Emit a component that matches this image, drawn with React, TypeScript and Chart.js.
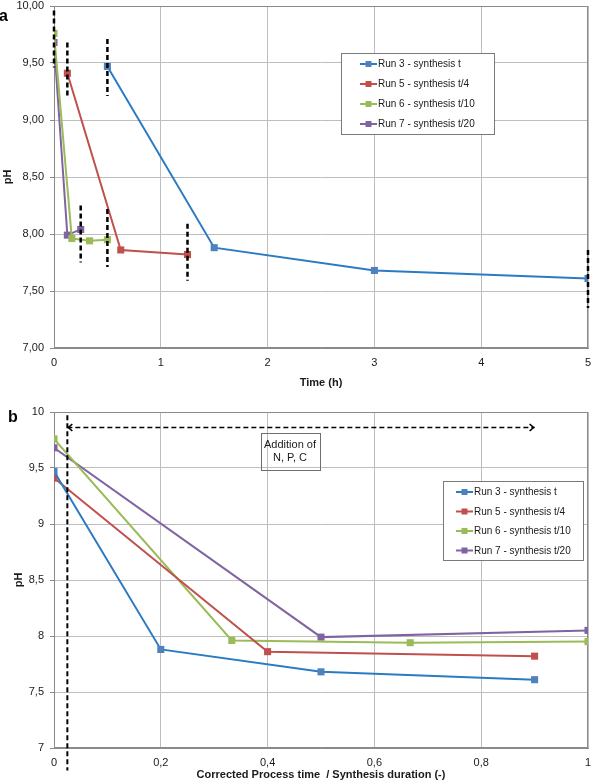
import { useEffect, useRef } from 'react';
import { Chart, registerables } from 'chart.js';

Chart.register(...registerables);

const FONT = "'Liberation Sans', Arial, Helvetica, sans-serif";

// Series names and colours
const RUN_LABELS = [
  'Run 3 - synthesis t',
  'Run 5 - synthesis t/4',
  'Run 6 - synthesis t/10',
  'Run 7 - synthesis t/20',
];
const RUN_LINE_COLORS = ['#2b7bc4', '#c0504d', '#9bbb59', '#8064a2'];
const RUN_MARKER_COLORS = ['#4f81bd', '#c0504d', '#9bbb59', '#8064a2'];

// Panel a: pH against time (h)
const run3TimeH = [0.5, 1.5, 3, 5];
const run3PhA = [9.47, 7.88, 7.68, 7.61];
const run5TimeH = [0.125, 0.625, 1.25];
const run5PhA = [9.41, 7.86, 7.82];
const run6TimeH = [0, 0.167, 0.333, 0.5];
const run6PhA = [9.76, 7.96, 7.94, 7.95];
const run7TimeH = [0, 0.125, 0.25];
const run7PhA = [9.68, 7.99, 8.04];

// Panel a: dashed markers for the start and end of each synthesis
const guideTimeH = [0, 0.125, 0.5, 0.25, 0.5, 1.25, 5];
const guideTopPh = [9.96, 9.68, 9.71, 8.25, 8.22, 8.09, 7.86];
const guideBottomPh = [9.46, 9.19, 9.21, 7.75, 7.71, 7.59, 7.35];

// Panel b: pH against corrected process time / synthesis duration
const run3Ratio = [0, 0.2, 0.5, 0.9];
const run3PhB = [9.47, 7.88, 7.68, 7.61];
const run5Ratio = [0, 0.4, 0.9];
const run5PhB = [9.41, 7.86, 7.82];
const run6Ratio = [0, 0.333, 0.667, 1];
const run6PhB = [9.76, 7.96, 7.94, 7.95];
const run7Ratio = [0, 0.5, 1];
const run7PhB = [9.68, 7.99, 8.05];

// Panel b: nutrient addition marker
const ADDITION_RATIO = 0.025;
const ADDITION_LINE_PH = [9.97, 6.8];
const ADDITION_ARROW_END = 0.9;
const ADDITION_ARROW_PH = 9.87;
const ADDITION_TEXT = ['Addition of', 'N, P, C'];
const ADDITION_TEXT_AT = [0.442, 9.645];

// Axis ranges and ticks
const PH_MIN = 7;
const PH_MAX = 10;
const PH_STEP = 0.5;
const TIME_MAX = 5;
const TIME_STEP = 1;
const RATIO_MAX = 1;
const RATIO_STEP = 0.2;

const GRID_COLOR = '#bdbdbd';
const FRAME_COLOR = '#8a8a8a';

function points(xs: number[], ys: number[]) {
  return xs.map((x, i) => ({ x, y: ys[i] }));
}

function runDataset(i: number, xs: number[], ys: number[]) {
  return {
    label: RUN_LABELS[i],
    data: points(xs, ys),
    borderColor: RUN_LINE_COLORS[i],
    backgroundColor: RUN_MARKER_COLORS[i],
    pointBackgroundColor: RUN_MARKER_COLORS[i],
    pointBorderColor: RUN_MARKER_COLORS[i],
    borderWidth: 2,
    pointStyle: 'rect',
    pointRadius: 5,
    pointBorderWidth: 0,
    tension: 0,
    order: 1,
    isRun: true,
  };
}

function dashedDataset(x: number, yTop: number, yBottom: number, width: number) {
  return {
    label: '',
    data: [
      { x, y: yTop },
      { x, y: yBottom },
    ],
    borderColor: '#000000',
    borderWidth: width,
    borderDash: [5, 3],
    pointRadius: 0,
    clip: false,
    order: 0,
    isRun: false,
  };
}

// Plot frame, boxed legend, addition arrow and its text box
const overlayPlugin = {
  id: 'overlay',
  beforeDatasetsDraw(chart: any) {
    const { ctx, chartArea } = chart;
    const l = Math.round(chartArea.left) + 0.5;
    const t = Math.round(chartArea.top) + 0.5;
    const r = Math.round(chartArea.right) - 0.5;
    const b = Math.round(chartArea.bottom) - 0.5;
    ctx.save();
    ctx.strokeStyle = FRAME_COLOR;
    ctx.lineWidth = 1;
    ctx.strokeRect(l - 0.5 + 0.5, t, r - l, b - t);
    ctx.restore();
  },
  afterDraw(chart: any, _args: any, opts: any) {
    const { ctx } = chart;
    const xs = chart.scales.x;
    const ys = chart.scales.y;
    ctx.save();

    if (opts.arrow) {
      const { from, to, y } = opts.arrow;
      const x1 = xs.getPixelForValue(from);
      const x2 = xs.getPixelForValue(to);
      const py = Math.round(ys.getPixelForValue(y)) + 0.5;
      ctx.strokeStyle = '#000000';
      ctx.lineWidth = 1.5;
      ctx.setLineDash([5, 3]);
      ctx.beginPath();
      ctx.moveTo(x1, py);
      ctx.lineTo(x2, py);
      ctx.stroke();
      ctx.setLineDash([]);
      ctx.lineWidth = 1.6;
      ctx.beginPath();
      ctx.moveTo(x1 + 5, py - 3.5);
      ctx.lineTo(x1 + 1, py);
      ctx.lineTo(x1 + 5, py + 3.5);
      ctx.moveTo(x2 - 5, py - 3.5);
      ctx.lineTo(x2 - 1, py);
      ctx.lineTo(x2 - 5, py + 3.5);
      ctx.stroke();
    }

    if (opts.note) {
      const { lines, at, width, height } = opts.note;
      const cx = xs.getPixelForValue(at[0]);
      const cy = ys.getPixelForValue(at[1]);
      ctx.strokeStyle = '#6e6e6e';
      ctx.lineWidth = 1;
      ctx.strokeRect(Math.round(cx - width / 2) + 0.5, Math.round(cy - height / 2) + 0.5, width, height);
      ctx.fillStyle = '#1a1a1a';
      ctx.font = `11px ${FONT}`;
      ctx.textAlign = 'center';
      ctx.textBaseline = 'middle';
      lines.forEach((t: string, k: number) => {
        ctx.fillText(t, cx, cy + (k - (lines.length - 1) / 2) * 13);
      });
    }

    if (opts.legend) {
      const { x, y, width, height, firstRow, rowGap, lineStart, lineEnd, textStart } = opts.legend;
      ctx.fillStyle = '#ffffff';
      ctx.fillRect(x, y, width, height);
      ctx.strokeStyle = '#7a7a7a';
      ctx.lineWidth = 1;
      ctx.strokeRect(x + 0.5, y + 0.5, width, height);
      const runs = chart.data.datasets.filter((d: any) => d.isRun);
      ctx.font = `10px ${FONT}`;
      ctx.textAlign = 'left';
      ctx.textBaseline = 'middle';
      runs.forEach((d: any, k: number) => {
        const ry = y + firstRow + k * rowGap;
        ctx.strokeStyle = d.borderColor;
        ctx.lineWidth = 2;
        ctx.beginPath();
        ctx.moveTo(x + lineStart, ry);
        ctx.lineTo(x + lineEnd, ry);
        ctx.stroke();
        ctx.fillStyle = d.pointBackgroundColor;
        const mx = x + (lineStart + lineEnd) / 2;
        ctx.fillRect(mx - 3, ry - 3, 6, 6);
        ctx.fillStyle = '#1a1a1a';
        ctx.fillText(d.label, x + textStart, ry + 0.5);
      });
    }

    ctx.restore();
  },
};

function fmtComma(v: number, digits: number) {
  return v.toFixed(digits).replace('.', ',');
}

function baseOptions(cfg: {
  xMax: number;
  xStep: number;
  xTitle: string;
  xFmt: (v: number) => string;
  yFmt: (v: number) => string;
  padTop: number;
  xAxisHeight: number;
  xTitlePad: any;
  yTitlePad: number;
  overlay: any;
}) {
  return {
    responsive: false,
    animation: false as const,
    events: [] as any[],
    layout: { padding: { top: cfg.padTop, right: 5, left: 0, bottom: 0 } },
    plugins: {
      legend: { display: false },
      tooltip: { enabled: false },
      overlay: cfg.overlay,
    },
    scales: {
      x: {
        type: 'linear' as const,
        min: 0,
        max: cfg.xMax,
        afterFit: (s: any) => {
          s.height = cfg.xAxisHeight;
          s.paddingLeft = 0;
          s.paddingRight = 0;
        },
        ticks: {
          stepSize: cfg.xStep,
          padding: 8,
          color: '#1a1a1a',
          font: { family: FONT, size: 11 },
          callback: (v: any) => cfg.xFmt(Number(v)),
        },
        grid: { color: GRID_COLOR, lineWidth: 1, drawTicks: false },
        border: { color: FRAME_COLOR, width: 1 },
        title: {
          display: true,
          text: cfg.xTitle,
          color: '#1a1a1a',
          font: { family: FONT, size: 11, weight: 'bold' as const },
          padding: cfg.xTitlePad,
        },
      },
      y: {
        type: 'linear' as const,
        min: PH_MIN,
        max: PH_MAX,
        afterFit: (s: any) => {
          s.width = 54;
          s.paddingTop = 0;
          s.paddingBottom = 0;
        },
        ticks: {
          stepSize: PH_STEP,
          padding: 6,
          color: '#1a1a1a',
          font: { family: FONT, size: 11 },
          callback: (v: any) => cfg.yFmt(Number(v)),
        },
        grid: { color: GRID_COLOR, lineWidth: 1, drawTicks: true, tickLength: 4, tickColor: FRAME_COLOR },
        border: { color: FRAME_COLOR, width: 1 },
        title: {
          display: true,
          text: 'pH',
          color: '#1a1a1a',
          font: { family: FONT, size: 11, weight: 'bold' as const },
          padding: { top: cfg.yTitlePad, bottom: 0 },
        },
      },
    },
  };
}

export default function App() {
  const topRef = useRef<HTMLCanvasElement | null>(null);
  const bottomRef = useRef<HTMLCanvasElement | null>(null);

  useEffect(() => {
    if (!topRef.current || !bottomRef.current) return;

    const guides = guideTimeH.map((t, i) => dashedDataset(t, guideTopPh[i], guideBottomPh[i], 2.5));

    const top = new Chart(topRef.current, {
      type: 'line',
      data: {
        datasets: [
          ...guides,
          runDataset(0, run3TimeH, run3PhA),
          runDataset(1, run5TimeH, run5PhA),
          runDataset(2, run6TimeH, run6PhA),
          runDataset(3, run7TimeH, run7PhA),
        ] as any,
      },
      options: baseOptions({
        xMax: TIME_MAX,
        xStep: TIME_STEP,
        xTitle: 'Time (h)',
        xFmt: (v) => String(v),
        yFmt: (v) => fmtComma(v, 2),
        padTop: 6,
        xAxisHeight: 47,
        xTitlePad: { top: 4, bottom: 5 },
        yTitlePad: 1,
        overlay: {
          legend: {
            x: 341,
            y: 53,
            width: 153,
            height: 81,
            firstRow: 11,
            rowGap: 20,
            lineStart: 19,
            lineEnd: 36,
            textStart: 37,
          },
        },
      }) as any,
      plugins: [overlayPlugin],
    });

    const bottom = new Chart(bottomRef.current, {
      type: 'line',
      data: {
        datasets: [
          dashedDataset(ADDITION_RATIO, ADDITION_LINE_PH[0], ADDITION_LINE_PH[1], 2),
          runDataset(0, run3Ratio, run3PhB),
          runDataset(1, run5Ratio, run5PhB),
          runDataset(2, run6Ratio, run6PhB),
          runDataset(3, run7Ratio, run7PhB),
        ] as any,
      },
      options: baseOptions({
        xMax: RATIO_MAX,
        xStep: RATIO_STEP,
        xTitle: 'Corrected Process time  / Synthesis duration (-)',
        xFmt: (v) => (Number.isInteger(v) ? String(v) : fmtComma(v, 1)),
        yFmt: (v) => (Number.isInteger(v) ? String(v) : fmtComma(v, 1)),
        padTop: 12,
        xAxisHeight: 34,
        xTitlePad: { top: 0, bottom: 0 },
        yTitlePad: 12,
        overlay: {
          arrow: { from: ADDITION_RATIO, to: ADDITION_ARROW_END, y: ADDITION_ARROW_PH },
          note: { lines: ADDITION_TEXT, at: ADDITION_TEXT_AT, width: 59, height: 37 },
          legend: {
            x: 443,
            y: 81,
            width: 140,
            height: 79,
            firstRow: 11,
            rowGap: 19.5,
            lineStart: 13,
            lineEnd: 30,
            textStart: 31,
          },
        },
      }) as any,
      plugins: [overlayPlugin],
    });

    return () => {
      top.destroy();
      bottom.destroy();
    };
  }, []);

  const panelLetter = {
    position: 'absolute' as const,
    fontFamily: FONT,
    fontWeight: 'bold' as const,
    fontSize: 16,
    lineHeight: '16px',
    color: '#000',
  };

  return (
    <div style={{ position: 'absolute', left: 0, top: 0, width: 593, height: 782, background: '#fff', overflow: 'hidden' }}>
      <canvas ref={topRef} width={593} height={395} style={{ position: 'absolute', left: 0, top: 0 }} />
      <canvas ref={bottomRef} width={593} height={382} style={{ position: 'absolute', left: 0, top: 400 }} />
      <div style={{ ...panelLetter, left: -1, top: 8 }}>a</div>
      <div style={{ ...panelLetter, left: 8, top: 409 }}>b</div>
    </div>
  );
}
